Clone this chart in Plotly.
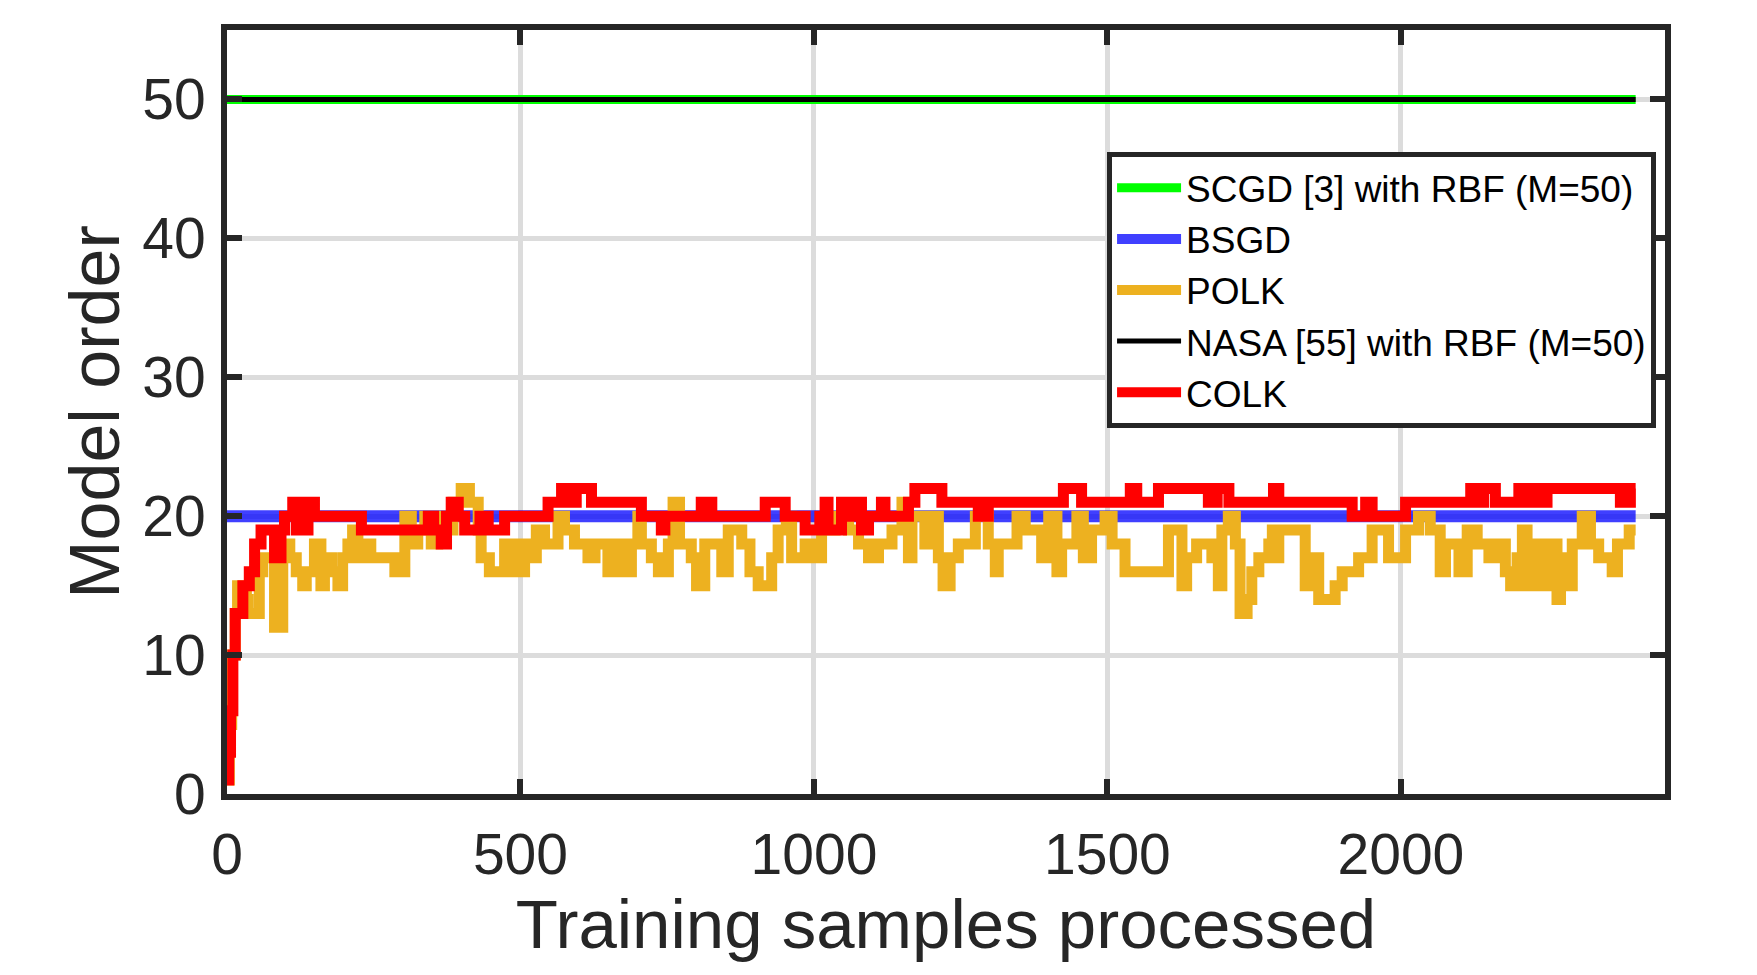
import plotly.graph_objects as go

# ---------------- data ----------------
x_ticks = [0, 500, 1000, 1500, 2000]
y_ticks = [0, 10, 20, 30, 40, 50]

scgd_x = [0, 2400]
scgd_y = [50, 50]

nasa_x = [0, 2400]
nasa_y = [50, 50]

bsgd_x = [0, 2400]
bsgd_y = [20, 20]

# POLK: step change points (sample index, model order)
polk_x = [0, 4, 8, 14, 18, 33, 36, 55, 61, 81, 95, 107, 118, 129, 135, 149, 160, 166, 178, 189,
          197, 206, 214, 223, 240, 245, 286, 303, 314, 325, 337, 348, 359, 371, 385, 399, 413, 428,
          433, 447, 473, 490, 507, 519, 527, 541, 564, 575, 592, 615, 627, 649, 666, 678, 689, 700,
          706, 723, 735, 752, 760, 771, 791, 800, 814, 843, 854, 877, 891, 905, 928, 939, 953, 962,
          985, 1002, 1013, 1036, 1059, 1076, 1093, 1110, 1133, 1150, 1161, 1167, 1189, 1201, 1212,
          1220, 1232, 1246, 1275, 1297, 1309, 1314, 1346, 1360, 1388, 1400, 1414, 1422, 1448, 1459,
          1473, 1496, 1508, 1530, 1604, 1627, 1635, 1652, 1678, 1689, 1695, 1706, 1718, 1726, 1738,
          1746, 1758, 1775, 1781, 1786, 1792, 1837, 1849, 1860, 1888, 1900, 1928, 1951, 1979, 2008,
          2030, 2050, 2067, 2076, 2099, 2113, 2130, 2150, 2167, 2178, 2187, 2198, 2207, 2215, 2224,
          2238, 2252, 2266, 2272, 2286, 2292, 2309, 2323, 2337, 2360, 2369, 2389, 2400]
polk_y = [1, 5, 10, 13, 15, 14, 13, 16, 17, 12, 18, 17, 16, 15, 16, 18, 15, 17, 16, 15,
          17, 18, 19, 17, 18, 17, 16, 20, 18, 19, 20, 18, 20, 19, 21, 22, 21, 19,
          17, 16, 18, 16, 18, 17, 19, 18, 20, 19, 18, 17, 18, 16, 18, 16, 18, 20,
          18, 17, 16, 18, 21, 18, 17, 15, 18, 16, 19, 18, 16, 15, 17, 19, 20, 17,
          18, 17, 19, 20, 19, 18, 17, 18, 19, 21, 17, 20, 18, 20, 17,
          15, 17, 18, 20, 18, 16, 18, 20, 19, 17, 20, 16, 18, 20, 17,
          19, 20, 18, 16, 19, 15, 17, 18, 17, 15, 19, 20, 18, 13, 14,
          16, 17, 18, 19, 17, 19, 15, 17, 14, 15, 16, 17, 19, 17, 19,
          20, 19, 16, 18, 16, 19, 18, 17, 18, 16, 15, 17, 19, 15, 18,
          15, 18, 14, 17, 15, 18, 20, 18, 17, 16, 18, 19, 19]

# COLK: step change points (sample index, model order)
colk_x = [0, 3, 6, 10, 14, 27, 38, 47, 58, 81, 92, 98, 112, 118, 125, 132, 138, 149, 229, 343,
          352, 365, 374, 382, 394, 405, 431, 445, 473, 547, 570, 587, 595, 621, 706, 740, 746, 808,
          826, 917, 951, 985, 1010, 1019, 1024, 1047, 1059, 1073, 1081, 1093, 1115, 1121, 1161,
          1172, 1218, 1280, 1297, 1425, 1456, 1539, 1550, 1587, 1672, 1687, 1707, 1783, 1792, 1917,
          1940, 1951, 2008, 2119, 2133, 2141, 2161, 2201, 2212, 2224, 2238, 2249, 2374, 2391, 2400]
colk_y = [1, 3, 6, 10, 13, 15, 16, 18, 19, 17, 19, 20, 21, 19, 21, 19, 21, 20, 19, 20,
          19, 18, 20, 21, 20, 19, 20, 19, 20, 21, 22, 21, 22, 21, 20, 19, 20, 21,
          20, 21, 20, 19, 20, 21, 19, 21, 20, 21, 19, 20, 21, 20, 21,
          22, 21, 20, 21, 22, 21, 22, 21, 22, 21, 22, 21, 22, 21, 20,
          21, 20, 21, 22, 21, 22, 21, 22, 21, 22, 21, 22, 21, 22, 22]

# ---------------- figure ----------------
FONT = "Liberation Sans, Arial, Helvetica, sans-serif"
DARK = "#262626"

fig = go.Figure()
fig.add_trace(go.Scatter(x=scgd_x, y=scgd_y, mode="lines", name="SCGD [3] with RBF (M=50)",
                         line=dict(color="#00ff00", width=9)))
fig.add_trace(go.Scatter(x=bsgd_x, y=bsgd_y, mode="lines", name="BSGD",
                         line=dict(color="rgba(0,0,255,0.75)", width=12)))
fig.add_trace(go.Scatter(x=polk_x, y=polk_y, mode="lines", name="POLK",
                         line=dict(color="#EDB120", width=11, shape="hv")))
fig.add_trace(go.Scatter(x=nasa_x, y=nasa_y, mode="lines", name="NASA [55] with RBF (M=50)",
                         line=dict(color="black", width=5)))
fig.add_trace(go.Scatter(x=colk_x, y=colk_y, mode="lines", name="COLK",
                         line=dict(color="#ff0000", width=11, shape="hv")))

axis_common = dict(
    showline=True, linecolor=DARK, linewidth=6, mirror="allticks",
    ticks="inside", ticklen=15, tickwidth=6, tickcolor=DARK,
    showgrid=True, gridcolor="#dcdcdc", gridwidth=5, zeroline=False,
    tickfont=dict(family=FONT, size=57, color=DARK),
)

fig.update_xaxes(range=[0, 2450], tickvals=x_ticks, ticktext=[str(v) for v in x_ticks],
                 title=dict(text="Training samples processed", font=dict(family=FONT, size=69, color=DARK),
                            standoff=10),
                 ticklabelstandoff=6, **axis_common)
fig.update_yaxes(range=[0, 55], tickvals=y_ticks, ticktext=[str(v) for v in y_ticks],
                 title=dict(text="Model order", font=dict(family=FONT, size=70, color=DARK),
                            standoff=2),
                 ticklabelstandoff=4, **axis_common)

fig.update_layout(
    width=1757, height=975,
    margin=dict(l=227, r=92, t=30, b=181),
    paper_bgcolor="white", plot_bgcolor="white",
    font=dict(family=FONT, color=DARK),
    showlegend=True,
    legend=dict(x=0.612, y=0.84, xanchor="left", yanchor="top",
                bgcolor="white", bordercolor=DARK, borderwidth=5,
                font=dict(family=FONT, size=37, color="black"),
                itemwidth=64, tracegroupgap=0),
)

fig.write_html("out.html")
